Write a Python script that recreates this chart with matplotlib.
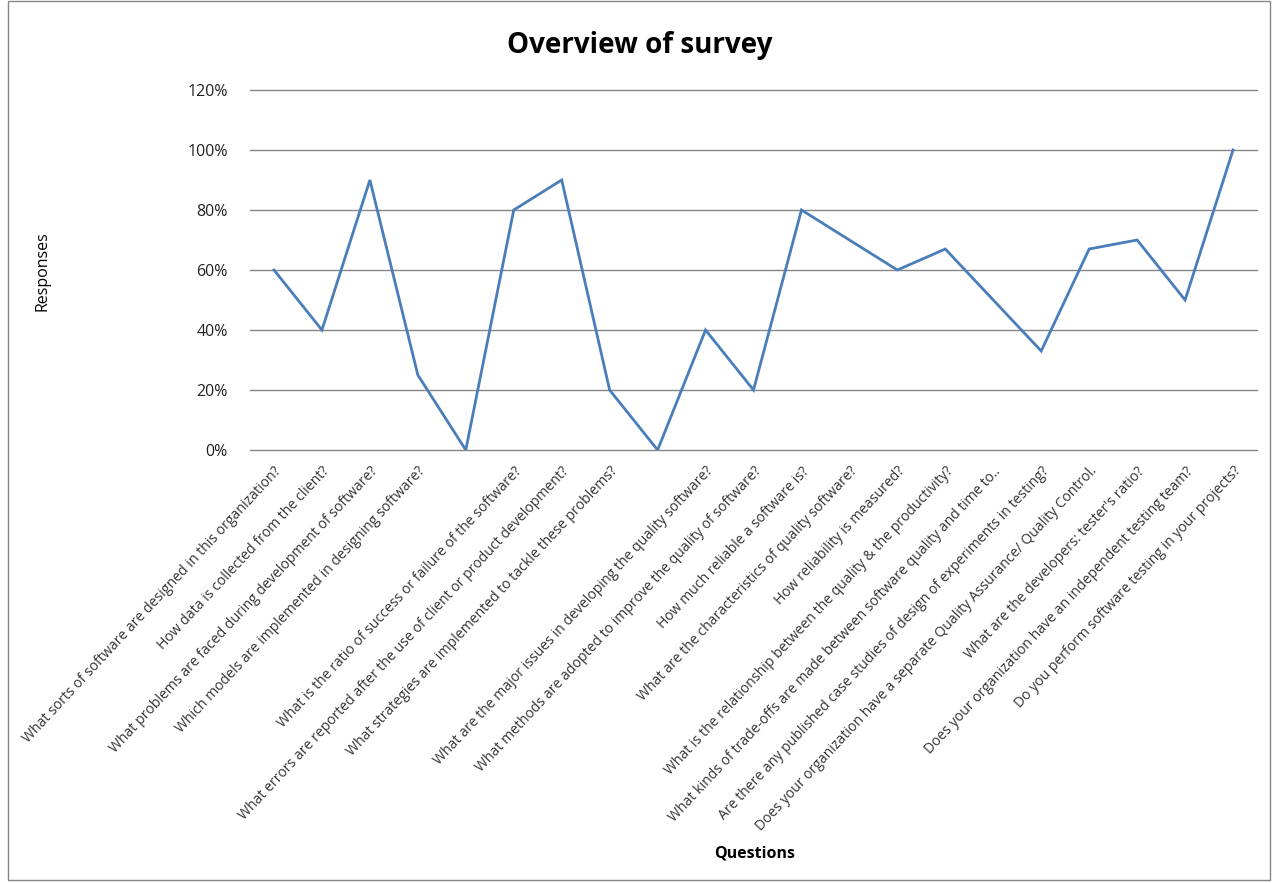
import matplotlib
matplotlib.use("Agg")
import matplotlib.pyplot as plt
from matplotlib.patches import Rectangle
from matplotlib.ticker import PercentFormatter

plt.rcParams['font.family'] = ['Open Sans', 'DejaVu Sans']

questions = [
    "What sorts of software are designed in this organization?",
    "How data is collected from the client?",
    "What problems are faced during development of software?",
    "Which models are implemented in designing software?",
    "",
    "What is the ratio of success or failure of the software?",
    "What errors are reported after the use of client or product development?",
    "What strategies are implemented to tackle these problems?",
    "",
    "What are the major issues in developing the quality software?",
    "What methods are adopted to improve the quality of software?",
    "How much reliable a software is?",
    "What are the characteristics of quality software?",
    "How reliability is measured?",
    "What is the relationship between the quality & the productivity?",
    "What kinds of trade-offs are made between software quality and time to..",
    "Are there any published case studies of design of experiments in testing?",
    "Does your organization have a separate Quality Assurance/ Quality Control.",
    "What are the developers: tester's ratio?",
    "Does your organization have an independent testing team?",
    "Do you perform software testing in your projects?",
]
responses = [0.60, 0.40, 0.90, 0.25, 0.0, 0.80, 0.90, 0.20, 0.0, 0.40, 0.20,
             0.80, 0.70, 0.60, 0.67, 0.50, 0.33, 0.67, 0.70, 0.50, 1.00]
yticks = [0, 0.2, 0.4, 0.6, 0.8, 1.0, 1.2]

W, H = 1275, 883
fig = plt.figure(figsize=(W / 100, H / 100), dpi=100)
ax = fig.add_axes([250 / W, 1 - 450 / H, (1257 - 250) / W, (450 - 90) / H])

x = list(range(len(responses)))
ax.plot(x, responses, color='#4A7EBB', lw=2.0, solid_joinstyle='miter', zorder=3)

ax.set_xlim(-0.5, len(responses) - 0.5)
ax.set_ylim(0, 1.2)
ax.set_yticks(yticks)
ax.yaxis.set_major_formatter(PercentFormatter(1.0, decimals=0))
for t in yticks:
    ax.axhline(t, color='#868686', lw=1.0, clip_on=False, zorder=1)
for s in ax.spines.values():
    s.set_visible(False)
ax.tick_params(axis='y', length=0, pad=16, labelsize=11.5, labelcolor='#222222')
ax.tick_params(axis='x', length=0, pad=10)
ax.set_xticks(x)
ax.set_xticklabels(questions, rotation=47, ha='right', va='top',
                   rotation_mode='anchor', fontsize=10.1, color='#333333')

fig.text(640 / W, 1 - 46 / H, "Overview of survey", ha='center', va='center',
         fontsize=20, fontweight='bold')
fig.text(42 / W, 1 - 271 / H, "Responses", ha='center', va='center',
         rotation=90, fontsize=11.5)
fig.text(755 / W, 1 - 853 / H, "Questions", ha='center', va='center',
         fontsize=11.5, fontweight='bold')

fig.patches.append(Rectangle((8 / W, 3 / H), (1270 - 8) / W, (H - 4) / H,
                             transform=fig.transFigure, fill=False,
                             edgecolor='#868686', lw=1.0))

fig.savefig("out.png", dpi=100, facecolor='white')
